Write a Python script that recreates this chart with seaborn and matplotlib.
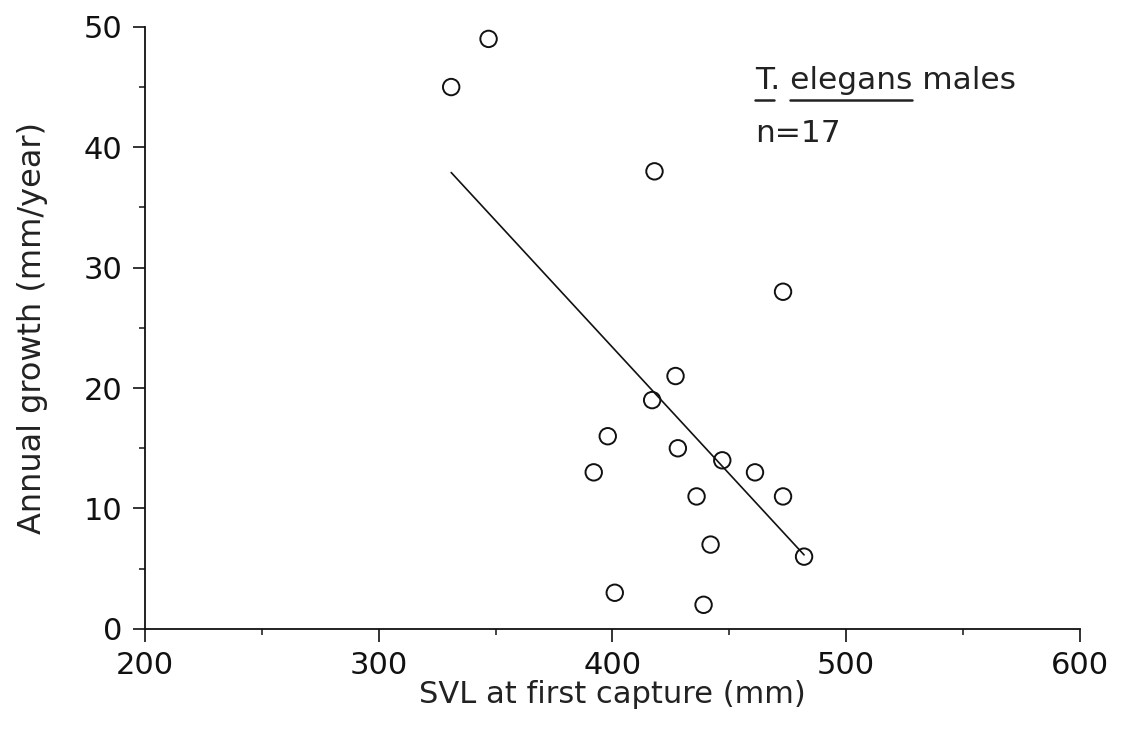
import matplotlib
matplotlib.use("Agg")
import matplotlib.pyplot as plt
from matplotlib.ticker import MultipleLocator
from matplotlib.lines import Line2D
import seaborn as sns
import pandas as pd

svl = [331, 347, 418, 473, 427, 417, 398, 392, 428, 447, 461, 436, 473, 482, 442, 401, 439]
growth = [45, 49, 38, 28, 21, 19, 16, 13, 15, 14, 13, 11, 11, 6, 7, 3, 2]
x_ticks = [200, 300, 400, 500, 600]
y_ticks = [0, 10, 20, 30, 40, 50]

df = pd.DataFrame({"svl": svl, "growth": growth})

sns.set_theme(style="ticks")
plt.rcParams["font.family"] = ["DejaVu Sans"]

fig = plt.figure(figsize=(11.26, 7.46), dpi=100)
ax = fig.add_axes([0.1288, 0.157, 0.8302, 0.807])

sns.regplot(data=df, x="svl", y="growth", ax=ax, ci=None, truncate=True,
            marker="o",
            scatter_kws={"s": 140, "facecolors": "none", "edgecolors": "#111111",
                         "linewidths": 1.4, "alpha": 1},
            line_kws={"color": "#111111", "linewidth": 1.2})

ax.set_xlim(200, 600)
ax.set_ylim(0, 50)
ax.set_xticks(x_ticks)
ax.set_yticks(y_ticks)
ax.xaxis.set_minor_locator(MultipleLocator(50))
ax.yaxis.set_minor_locator(MultipleLocator(5))
ax.tick_params(axis="both", which="major", direction="out", length=9, width=1.2,
               labelsize=22, colors="#111111", pad=7)
ax.tick_params(axis="both", which="minor", direction="out", length=4, width=1.2)
for s in ["top", "right"]:
    ax.spines[s].set_visible(False)
for s in ["left", "bottom"]:
    ax.spines[s].set_linewidth(1.3)
    ax.spines[s].set_color("#111111")

ax.set_xlabel("SVL at first capture (mm)", fontsize=22, labelpad=0, color="#222222")
ax.set_ylabel("Annual growth (mm/year)", fontsize=23, labelpad=26, color="#222222")

label = "T. elegans males"
tx, ty = 461, 44.8
ax.text(tx, ty, label, fontsize=22.5, va="baseline", ha="left", color="#222222")
ax.text(tx, 40.4, "n=17", fontsize=22.5, va="baseline", ha="left", color="#222222")

# underline "T" and "elegans"
fig.canvas.draw()
renderer = fig.canvas.get_renderer()

def prefix_width(s):
    if not s:
        return 0.0
    t = ax.text(tx, ty, s, fontsize=22.5, va="baseline", ha="left")
    w = t.get_window_extent(renderer).width
    t.remove()
    return w

x0_disp, y0_disp = ax.transData.transform((tx, ty))
underline_y = y0_disp - 11
for word in ["T", "elegans"]:
    start = label.index(word)
    a = prefix_width(label[:start])
    b = prefix_width(label[:start + len(word)])
    line = Line2D([x0_disp + a, x0_disp + b], [underline_y, underline_y],
                  transform=None, color="#222222", linewidth=1.8)
    fig.add_artist(line)

fig.savefig("out.png", dpi=100, facecolor="white")
